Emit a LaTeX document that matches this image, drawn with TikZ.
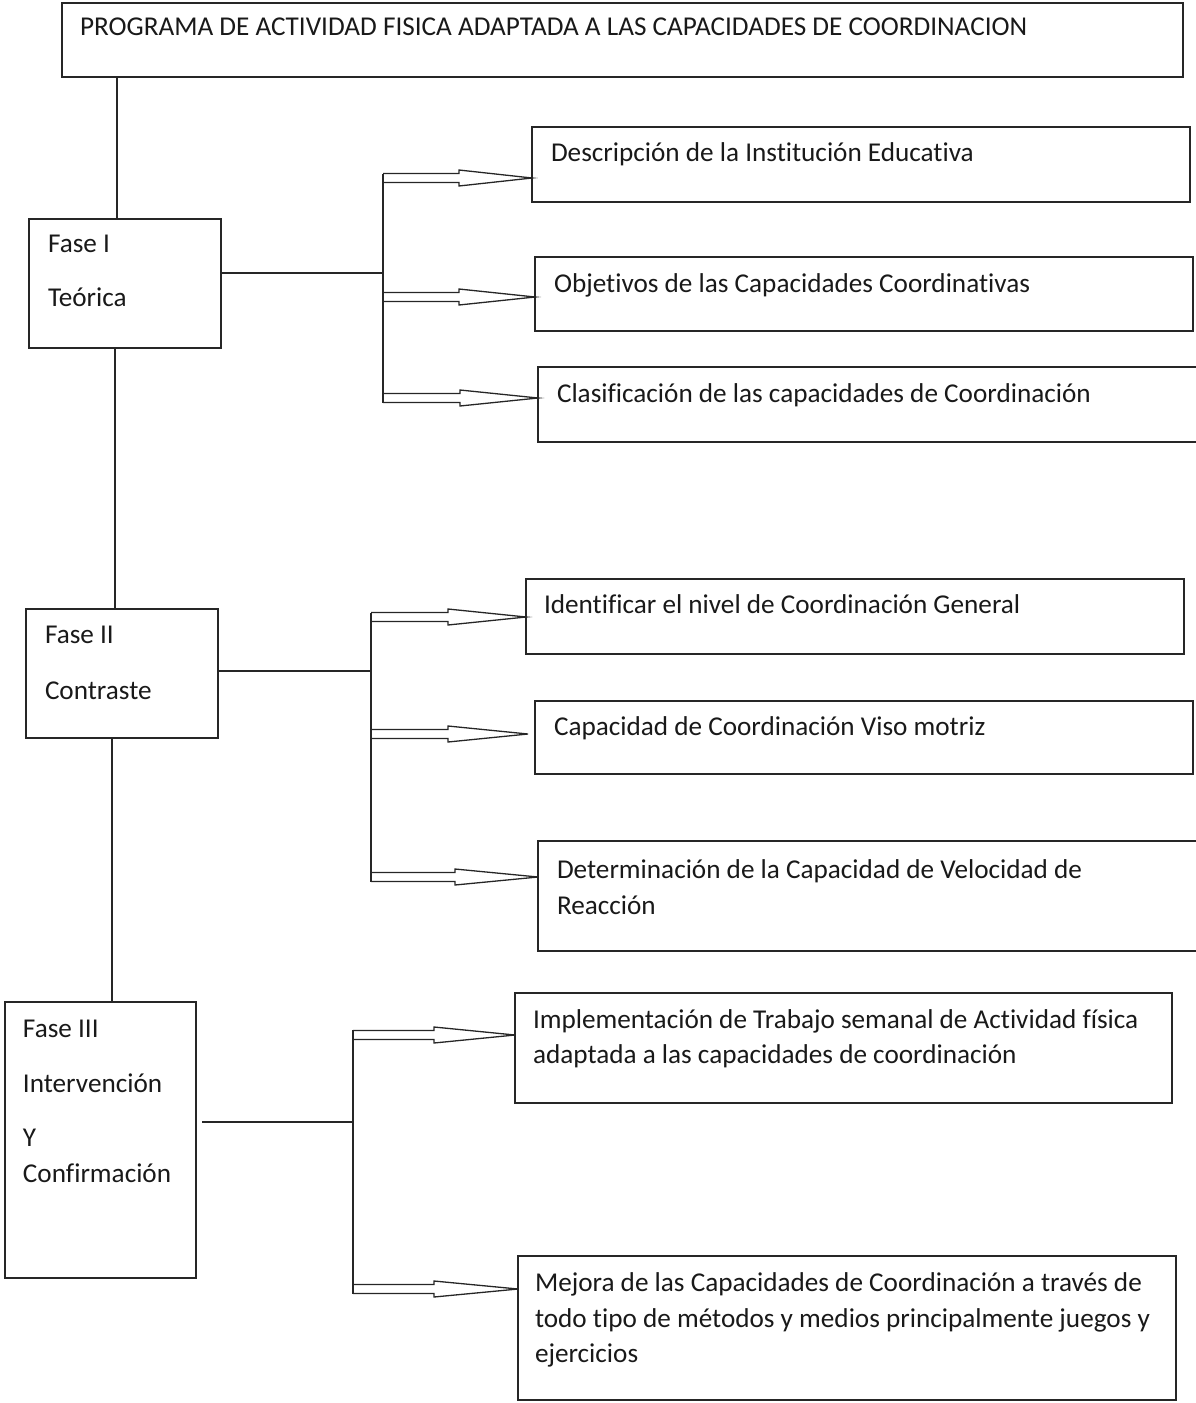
\documentclass[tikz,border=0pt]{standalone}
\usepackage{fontspec}
\setmainfont{Carlito}[Ligatures=NoCommon]
\usetikzlibrary{calc}
\tikzset{
  box/.style={draw=black!85, line width=1.3pt, rectangle, inner sep=0pt, outer sep=0pt, anchor=north west},
  lbl/.style={anchor=base west, inner sep=0pt, outer sep=0pt, font=\fontsize{27.2}{31}\selectfont, text=black!90},
  conn/.style={draw=black!85, line width=1.3pt, line join=miter},
}
% #1 start coordinate (on the vertical), #2 tip coordinate, #3 head length
\newcommand\hollowarrow[3]{%
  \draw[conn] let \p1=(#1), \p2=(#2) in
    (\x1,\y2+4.5pt) -- (\x2-#3,\y2+4.5pt) -- (\x2-#3,\y2+8pt) -- (\x2,\y2)
    -- (\x2-#3,\y2-8pt) -- (\x2-#3,\y2-4.5pt) -- (\x1,\y2-4.5pt);}
\begin{document}
\begin{tikzpicture}[x=1pt,y=-1pt]
\useasboundingbox (0,0) rectangle (1195,1403);

% boxes
\node[box, minimum width=1121pt, minimum height=74pt] (title) at (62,3) {};
\node[box, minimum width=192pt, minimum height=129pt] (f1) at (29,219) {};
\node[box, minimum width=192pt, minimum height=129pt] (f2) at (26,609) {};
\node[box, minimum width=191pt, minimum height=276pt] (f3) at (5,1002) {};

\node[box, minimum width=658pt, minimum height=75pt] (d1) at (532,127) {};
\node[box, minimum width=658pt, minimum height=74pt] (d2) at (535,257) {};
\node[box, minimum width=680pt, minimum height=75pt] (d3) at (538,367) {};
\node[box, minimum width=658pt, minimum height=75pt] (d4) at (526,579) {};
\node[box, minimum width=658pt, minimum height=73pt] (d5) at (535,701) {};
\node[box, minimum width=680pt, minimum height=110pt] (d6) at (538,841) {};
\node[box, minimum width=657pt, minimum height=110pt] (d7) at (515,993) {};
\node[box, minimum width=658pt, minimum height=144pt] (d8) at (518,1256) {};

% texts
\node[lbl] (ttitle) at (80,35) {PROGRAMA DE ACTIVIDAD FISICA ADAPTADA A LAS CAPACIDADES DE COORDINACION};
\node[lbl] (tf1a) at (48,252) {Fase I};
\node[lbl] (tf1b) at (48,306) {Teórica};
\node[lbl] (tf2a) at (45,643) {Fase II};
\node[lbl] (tf2b) at (45,699) {Contraste};
\node[lbl] (tf3a) at (23,1037) {Fase III};
\node[lbl] (tf3b) at (23,1092) {Intervención};
\node[lbl] (tf3c) at (23,1146) {Y};
\node[lbl] (tf3d) at (23,1182) {Confirmación};

\node[lbl] (td1) at (551,161) {Descripción de la Institución Educativa};
\node[lbl] (td2) at (554,292) {Objetivos de las Capacidades Coordinativas};
\node[lbl] (td3) at (557,402) {Clasificación de las capacidades de Coordinación};
\node[lbl] (td4) at (544,613) {Identificar el nivel de Coordinación General};
\node[lbl] (td5) at (554,735) {Capacidad de Coordinación Viso motriz};
\node[lbl] (td6a) at (557,878) {Determinación de la Capacidad de Velocidad de};
\node[lbl] (td6b) at (557,914) {Reacción};
\node[lbl] (td7a) at (533,1028) {Implementación de Trabajo semanal de Actividad física};
\node[lbl] (td7b) at (533,1063) {adaptada a las capacidades de coordinación};
\node[lbl] (td8a) at (535,1291) {Mejora de las Capacidades de Coordinación a través de};
\node[lbl] (td8b) at (535,1327) {todo tipo de métodos y medios principalmente juegos y};
\node[lbl] (td8c) at (535,1362) {ejercicios};

% vertical spine between phases
\draw[conn] (title.south -| 117,0) -- (f1.north -| 117,0);
\draw[conn] (f1.south -| 115,0) -- (f2.north -| 115,0);
\draw[conn] (f2.south -| 112,0) -- (f3.north -| 112,0);

% branch points
\coordinate (b1) at (383,273);
\coordinate (b2) at (371,671);
\coordinate (b3) at (353,1122);
\coordinate (g3) at (202,1122);

% feed lines
\draw[conn] (f1.east |- b1) -- (b1);
\draw[conn] (f2.east |- b2) -- (b2);
\draw[conn] (g3) -- (b3);

% tips
\coordinate (a1) at (d1.west |- 0,178);
\coordinate (a2) at (d2.west |- 0,297);
\coordinate (a3) at (d3.west |- 0,398);
\coordinate (a4) at (d4.west |- 0,617);
\coordinate (a5) at (528,734);
\coordinate (a6) at (d6.west |- 0,877);
\coordinate (a7) at (d7.west |- 0,1035);
\coordinate (a8) at (d8.west |- 0,1289);

% spines of branches
\draw[conn] ($(b1 |- a1)+(0,-4.5)$) -- ($(b1 |- a3)+(0,4.5)$);
\draw[conn] ($(b2 |- a4)+(0,-4.5)$) -- ($(b2 |- a6)+(0,4.5)$);
\draw[conn] ($(b3 |- a7)+(0,-5)$) -- ($(b3 |- a8)+(0,4.5)$);

% hollow arrows
\hollowarrow{b1}{a1}{73pt}
\hollowarrow{b1}{a2}{76pt}
\hollowarrow{b1}{a3}{78pt}
\hollowarrow{b2}{a4}{78pt}
\hollowarrow{b2}{a5}{80pt}
\hollowarrow{b2}{a6}{83pt}
\hollowarrow{b3}{a7}{81pt}
\hollowarrow{b3}{a8}{84pt}
\end{tikzpicture}
\end{document}
